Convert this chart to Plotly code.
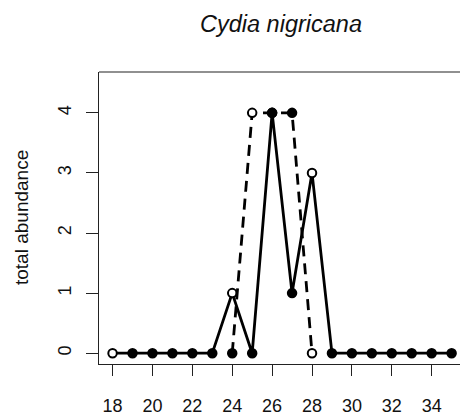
import plotly.graph_objects as go

# data
weeks = list(range(18, 36))
abundance = [0, 0, 0, 0, 0, 0, 1, 0, 4, 1, 3, 0, 0, 0, 0, 0, 0, 0]
open_weeks = [18, 24, 28]

weeks_dashed = [24, 25, 26, 27, 28]
abundance_dashed = [0, 4, 4, 4, 0]
open_weeks_dashed = [25, 28]

x_ticks = list(range(18, 36, 2))
y_ticks = [0, 1, 2, 3, 4]


def marker_style(xs, open_list):
    fill = ['white' if w in open_list else 'black' for w in xs]
    return dict(size=8.5, color=fill, line=dict(color='black', width=2))


fig = go.Figure()

fig.add_trace(go.Scatter(
    x=weeks, y=abundance, mode='lines+markers',
    line=dict(color='black', width=2.8),
    marker=marker_style(weeks, open_weeks),
    showlegend=False,
))

fig.add_trace(go.Scatter(
    x=weeks_dashed, y=abundance_dashed, mode='lines+markers',
    line=dict(color='black', width=2.8, dash='11px,7px'),
    marker=marker_style(weeks_dashed, open_weeks_dashed),
    showlegend=False,
))

font_family = 'Liberation Sans, Arial, sans-serif'

fig.update_layout(
    width=460, height=416,
    margin=dict(l=99, r=0, t=72, b=49),
    plot_bgcolor='white', paper_bgcolor='white',
    font=dict(family=font_family, color='#111', size=18),
    title=dict(
        text='Cydia nigricana',
        font=dict(size=23.5, style='italic', family=font_family),
        xref='container', x=281 / 460, xanchor='center',
        yref='container', y=1 - 24 / 416, yanchor='middle',
    ),
)

fig.update_xaxes(
    range=[17.32, 35.42], tickvals=x_ticks,
    showgrid=False, zeroline=False,
    showline=True, linecolor='#222', linewidth=1.2,
    ticks='outside', ticklen=11, tickcolor='#222', tickwidth=1.2,
    tickfont=dict(size=18), ticklabelstandoff=14,
)
fig.update_yaxes(
    range=[-0.18, 4.68], tickvals=y_ticks,
    showgrid=False, zeroline=False,
    showline=True, linecolor='#222', linewidth=1.2,
    ticks='outside', ticklen=12, tickcolor='#222', tickwidth=1.2,
    tickfont=dict(size=18), tickangle=-90, ticklabelstandoff=8,
)

# top edge of the box
fig.add_shape(type='line', xref='paper', yref='paper', x0=0, x1=1, y0=1, y1=1,
              line=dict(color='#222', width=1.2))

# y axis title
fig.add_annotation(
    text='total abundance', xref='paper', yref='paper',
    x=(21 - 99) / 361, y=0.5, xanchor='center', yanchor='middle',
    textangle=-90, showarrow=False,
    font=dict(size=19),
)

# page has a default 8px body margin; drop it so the figure sits at 0,0
fig.write_html('out.html', config={'displayModeBar': False},
               post_script="document.body.style.margin='0px';")
